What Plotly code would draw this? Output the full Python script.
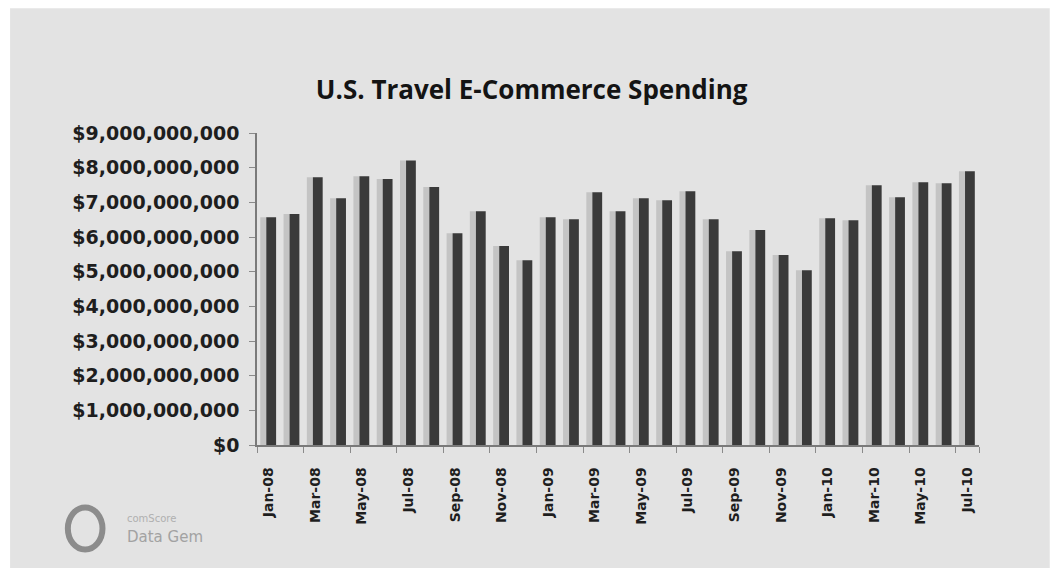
import plotly.graph_objects as go

# Monthly U.S. travel e-commerce spending, Jan 2008 - Jul 2010 (USD)
months = [
    "Jan-08", "Feb-08", "Mar-08", "Apr-08", "May-08", "Jun-08",
    "Jul-08", "Aug-08", "Sep-08", "Oct-08", "Nov-08", "Dec-08",
    "Jan-09", "Feb-09", "Mar-09", "Apr-09", "May-09", "Jun-09",
    "Jul-09", "Aug-09", "Sep-09", "Oct-09", "Nov-09", "Dec-09",
    "Jan-10", "Feb-10", "Mar-10", "Apr-10", "May-10", "Jun-10", "Jul-10",
]
spending = [
    6.57e9, 6.66e9, 7.72e9, 7.12e9, 7.75e9, 7.67e9,
    8.21e9, 7.44e9, 6.11e9, 6.74e9, 5.74e9, 5.33e9,
    6.57e9, 6.51e9, 7.29e9, 6.74e9, 7.12e9, 7.06e9,
    7.32e9, 6.51e9, 5.59e9, 6.20e9, 5.48e9, 5.04e9,
    6.54e9, 6.48e9, 7.49e9, 7.15e9, 7.58e9, 7.55e9, 7.90e9,
]
# every other month is labelled on the category axis
label_months = months[::2]
y_ticks = [i * 1e9 for i in range(10)]
y_tick_text = ["${:,.0f}".format(v) for v in y_ticks]

fig = go.Figure()

# soft side face of each column
fig.add_trace(go.Bar(
    x=months, y=spending, offset=-0.36, width=0.28,
    marker=dict(color="#c4c4c4", line=dict(width=0)),
    hoverinfo="skip", showlegend=False,
))
# dark front face
fig.add_trace(go.Bar(
    x=months, y=spending, offset=-0.1, width=0.42,
    marker=dict(color="#3a3a3a", line=dict(width=0)),
    name="Spending", showlegend=False,
))

fig.update_layout(
    width=1057, height=568,
    margin=dict(l=257, r=78, t=133, b=123),
    paper_bgcolor="#ffffff",
    plot_bgcolor="rgba(0,0,0,0)",
    barmode="overlay",
    title=dict(
        text="<b>U.S. Travel E-Commerce Spending</b>",
        x=0.503, xanchor="center", y=0.842, yanchor="middle",
        font=dict(family="Open Sans", size=26, color="#141414"),
    ),
    font=dict(family="DejaVu Sans", color="#1e1e1e"),
    shapes=[
        # grey slide background
        dict(type="rect", xref="paper", yref="paper", layer="below",
             x0=-0.342, x1=1.098, y0=-0.4, y1=1.40,
             fillcolor="#e3e3e3", line=dict(width=0)),
        # logo mark
        dict(type="circle", xref="paper", yref="paper", layer="above",
             x0=-0.262, x1=-0.214, y0=-0.335, y1=-0.2,
             line=dict(color="#8c8c8c", width=6), fillcolor="rgba(0,0,0,0)"),
    ],
    annotations=[
        dict(text="comScore", xref="paper", yref="paper",
             x=-0.183, y=-0.237, xanchor="left", yanchor="middle",
             showarrow=False, font=dict(family="DejaVu Sans", size=10, color="#b0b0b0")),
        dict(text="Data Gem", xref="paper", yref="paper",
             x=-0.183, y=-0.295, xanchor="left", yanchor="middle",
             showarrow=False, font=dict(family="DejaVu Sans", size=15, color="#a2a2a2")),
    ],
)

fig.update_xaxes(
    type="category",
    tickmode="array", tickvals=label_months, ticktext=label_months,
    tickangle=-90,
    tickfont=dict(family="DejaVu Sans", size=14, color="#1e1e1e", weight="bold"),
    showline=True, linecolor="#7a7a7a", linewidth=1.5,
    ticks="outside", ticklen=6, tickcolor="#8a8a8a", tickson="boundaries",
    ticklabelstandoff=15,
    showgrid=False, zeroline=False,
    range=[-0.5, len(months) - 0.5],
)
fig.update_yaxes(
    range=[0, 9e9],
    tickmode="array", tickvals=y_ticks, ticktext=y_tick_text,
    tickfont=dict(family="DejaVu Sans", size=19, color="#1e1e1e", weight="bold"),
    showline=True, linecolor="#7a7a7a", linewidth=1.5,
    ticks="outside", ticklen=6, tickcolor="#8a8a8a",
    ticklabelstandoff=6,
    showgrid=False, zeroline=False,
)

fig.write_html("out.html")
